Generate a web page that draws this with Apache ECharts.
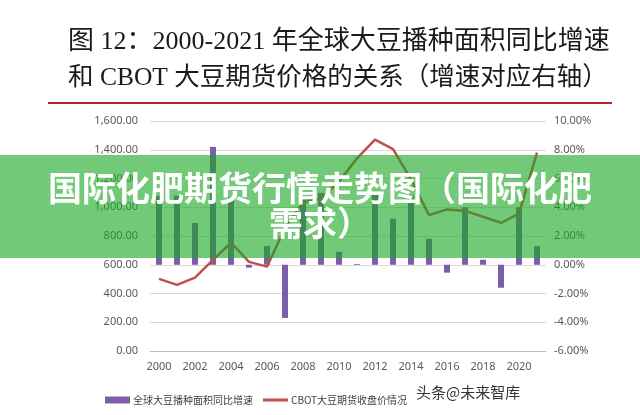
<!DOCTYPE html>
<html>
<head>
<meta charset="utf-8">
<script src="https://cdn.jsdelivr.net/npm/echarts@6/dist/echarts.min.js"></script>
<style>
  html, body { margin: 0; padding: 0; background: #fff; }
  #main { width: 640px; height: 415px; }
</style>
</head>
<body>
<div id="main"></div>
<script>
var years = ['2000', '2001', '2002', '2003', '2004', '2005', '2006', '2007', '2008', '2009', '2010',
    '2011', '2012', '2013', '2014', '2015', '2016', '2017', '2018', '2019', '2020', '2021'];
// 全球大豆播种面积同比增速 (%), right axis
var areaGrowth = [4.8, 4.8, 2.9, 8.2, 4.7, -0.2, 1.3, -3.7, 4.5, 5.0, 0.9,
    0.05, 5.0, 3.2, 4.8, 1.8, -0.55, 4.0, 0.35, -1.6, 4.0, 1.3];
// CBOT大豆期货收盘价, left axis
var cbotPrice = [502, 460, 511, 634, 753, 620, 587, 855, 1035, 1060, 1180,
    1340, 1470, 1405, 1195, 945, 985, 975, 934, 892, 955, 1380];

var seriesNames = ['全球大豆播种面积同比增速', 'CBOT大豆期货收盘价情况'];
var titleLines = ['图 12：2000-2021 年全球大豆播种面积同比增速', '和 CBOT 大豆期货价格的关系（增速对应右轴）'];
var bannerText = '国际化肥期货行情走势图（国际化肥\n需求）';

var chart = echarts.init(document.getElementById('main'));
var labelStyle = { color: '#595959', fontSize: 11, fontFamily: 'Noto Sans' };

var option = {
    backgroundColor: '#fff',
    animation: false,
    grid: { left: 150, right: 94, top: 121, bottom: 64 },
    legend: {
        left: 100,
        top: 390,
        itemWidth: 25,
        itemHeight: 7,
        itemGap: 10,
        textStyle: { color: '#404040', fontSize: 10, fontFamily: 'Noto Sans CJK SC', padding: [0, 0, 0, -2] },
        data: [
            { name: seriesNames[0], icon: 'rect' },
            { name: seriesNames[1], icon: 'path://M0,0 L25,0 L25,3 L0,3 Z' }
        ]
    },
    xAxis: {
        type: 'category',
        data: years,
        axisLine: { lineStyle: { color: '#bfbfbf' } },
        axisTick: { interval: 1, length: 5, lineStyle: { color: '#bfbfbf' } },
        axisLabel: Object.assign({ interval: 1, margin: 10 }, labelStyle)
    },
    yAxis: [
        {
            type: 'value',
            min: 0, max: 1600, interval: 200,
            axisLine: { show: false },
            axisTick: { show: false },
            splitLine: { lineStyle: { color: '#d9d9d9' } },
            axisLabel: Object.assign({
                margin: 12,
                formatter: function (v) {
                    return v.toLocaleString('en-US', { minimumFractionDigits: 2, maximumFractionDigits: 2 });
                }
            }, labelStyle)
        },
        {
            type: 'value',
            min: -6, max: 10, interval: 2,
            axisLine: { show: false },
            axisTick: { show: false },
            splitLine: { show: false },
            axisLabel: Object.assign({
                margin: 8,
                formatter: function (v) { return v.toFixed(2) + '%'; }
            }, labelStyle)
        }
    ],
    series: [
        {
            name: seriesNames[0],
            type: 'bar',
            yAxisIndex: 1,
            barWidth: 6,
            itemStyle: { color: '#7b5ea7' },
            data: areaGrowth
        },
        {
            name: seriesNames[1],
            type: 'line',
            yAxisIndex: 0,
            showSymbol: false,
            symbol: 'none',
            lineStyle: { color: '#c0504d', width: 2.5 },
            itemStyle: { color: '#c0504d' },
            data: cbotPrice
        }
    ],
    graphic: [
        {
            type: 'text', left: 68, top: 29, z: 10,
            style: { text: titleLines[0], fill: '#1a1a1a', font: '26px "Liberation Serif", "Noto Sans CJK SC"' }
        },
        {
            type: 'text', left: 68, top: 66, z: 10,
            style: { text: titleLines[1], fill: '#1a1a1a', font: '25.5px "Liberation Serif", "Noto Sans CJK SC"' }
        },
        {
            type: 'rect', z: 10,
            shape: { x: 48, y: 102, width: 564, height: 2 },
            style: { fill: '#b3262a' }
        },
        {
            type: 'rect', z: 100,
            shape: { x: 0, y: 155, width: 640, height: 103 },
            style: { fill: 'rgba(28,168,36,0.62)' }
        },
        {
            type: 'text', z: 101,
            x: 320, y: 171,
            style: {
                text: bannerText,
                fill: '#ffffff',
                textAlign: 'center',
                textVerticalAlign: 'top',
                lineHeight: 35,
                font: 'bold 34px "Noto Sans CJK SC"'
            }
        },
        {
            type: 'text', left: 416, top: 385, z: 10,
            style: { text: '头条@未来智库', fill: '#333', font: '15px "Noto Sans CJK SC"' }
        }
    ]
};

chart.setOption(option);
</script>
</body>
</html>
